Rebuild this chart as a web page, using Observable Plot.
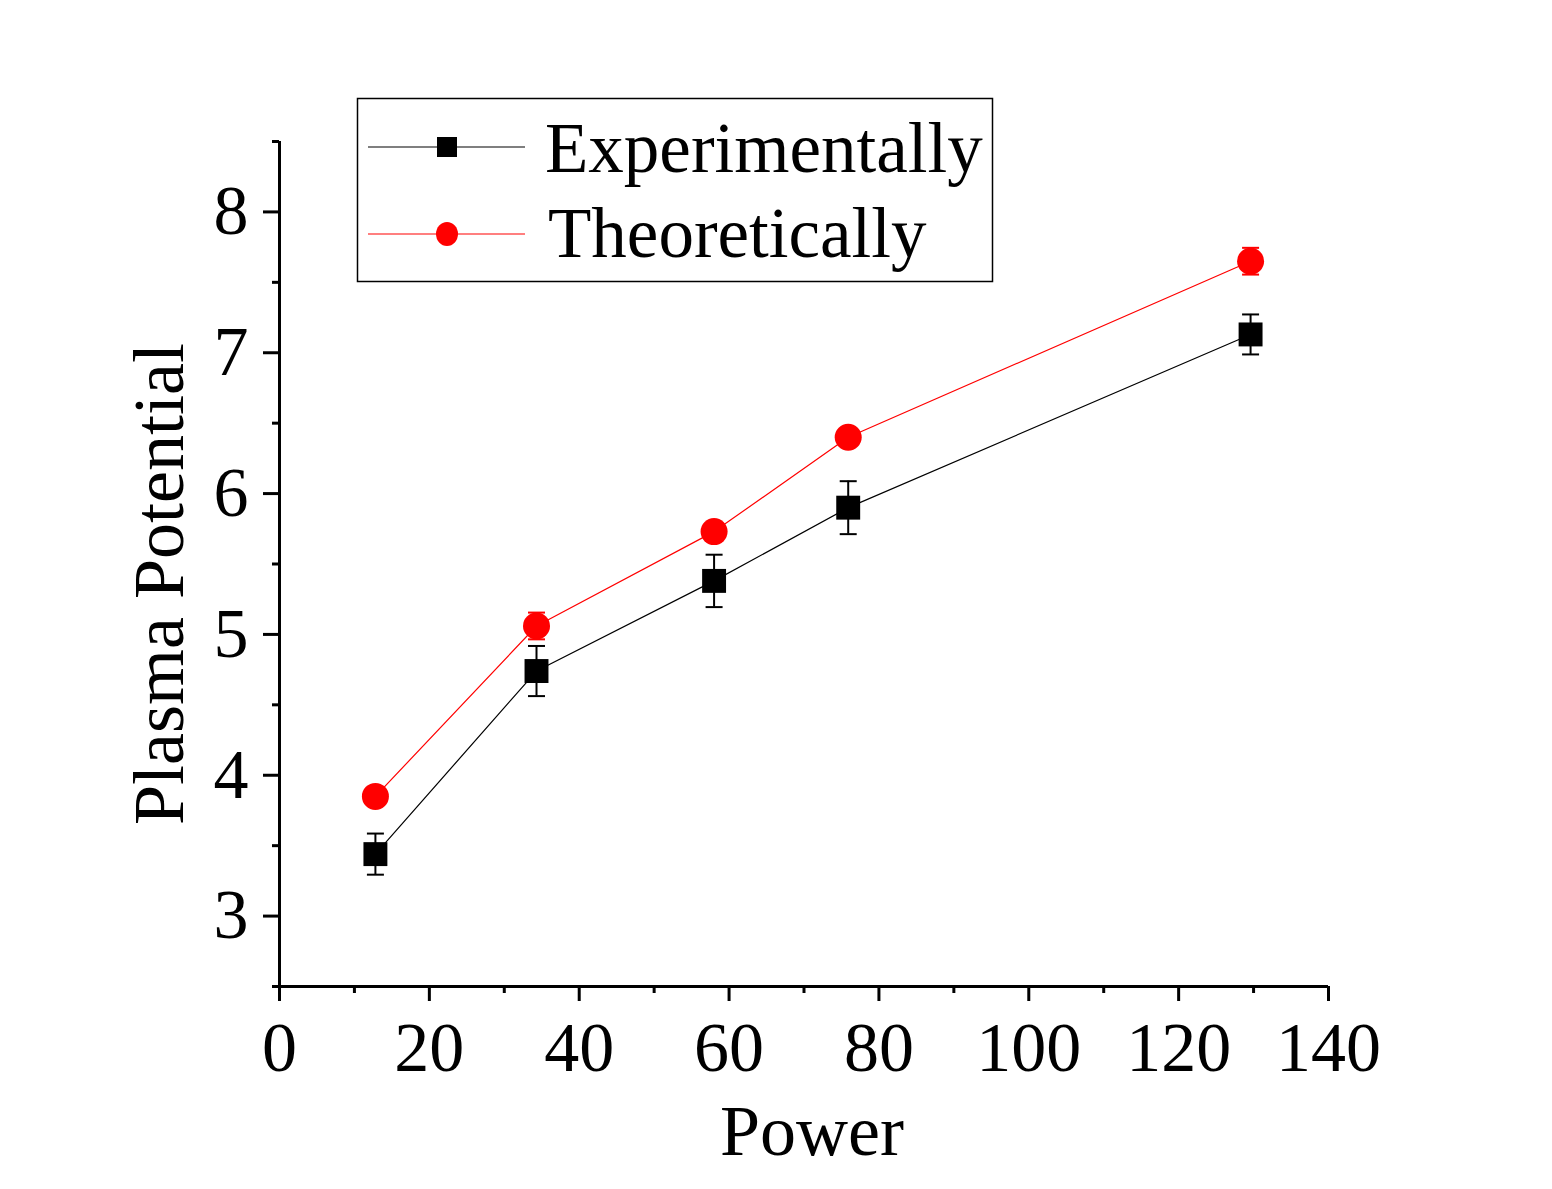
<!DOCTYPE html>
<html><head><meta charset="utf-8">
<script src="https://cdn.jsdelivr.net/npm/d3@7"></script>
<script src="https://cdn.jsdelivr.net/npm/@observablehq/plot@0.6"></script>
<style>body{margin:0;background:#fff} #chart svg{display:block}</style>
</head><body><div id="chart"></div>
<script>
const power = [12.8, 34.3, 58.0, 75.9, 129.6];
const experimental = [3.44, 4.74, 5.38, 5.90, 7.13];
const experimentalErr = [0.146, 0.178, 0.186, 0.188, 0.142];
const theoretical = [3.85, 5.06, 5.73, 6.40, 7.65];
const theoreticalErr = [0.05, 0.095, 0.05, 0.05, 0.095];
const xMajor = [0, 20, 40, 60, 80, 100, 120, 140];
const xMinor = [10, 30, 50, 70, 90, 110, 130];
const yMajor = [3, 4, 5, 6, 7, 8];
const yMinor = [2.5, 3.5, 4.5, 5.5, 6.5, 7.5, 8.5];
const seriesNames = ["Experimentally", "Theoretically"];
const seriesColors = ["#000000", "#ff0000"];
const xLabel = "Power";
const yLabel = "Plasma Potential";

const exp = power.map((x, i) => ({x, y: experimental[i], e: experimentalErr[i]}));
const theo = power.map((x, i) => ({x, y: theoretical[i], e: theoreticalErr[i]}));

const font = "'Liberation Serif','Times New Roman',serif";
const capSymbol = {draw(ctx, size) { const w = Math.sqrt(size / Math.PI); ctx.moveTo(-w, 0); ctx.lineTo(w, 0); }};

function seriesMarks(data, color, symbol) {
  return [
    Plot.line(data, {x: "x", y: "y", stroke: color, strokeWidth: 1.2}),
    Plot.ruleX(data, {x: "x", y1: d => d.y - d.e, y2: d => d.y + d.e, stroke: color, strokeWidth: 2}),
    Plot.dot(data, {x: "x", y: d => d.y + d.e, symbol: capSymbol, r: 8.5, stroke: color, strokeWidth: 2, fill: "none"}),
    Plot.dot(data, {x: "x", y: d => d.y - d.e, symbol: capSymbol, r: 8.5, stroke: color, strokeWidth: 2, fill: "none"}),
    Plot.dot(data, {x: "x", y: "y", symbol, r: 13.5, fill: color, stroke: "none"})
  ];
}

const chart = Plot.plot({
  width: 1552, height: 1189,
  marginLeft: 279, marginRight: 224, marginTop: 141, marginBottom: 203,
  style: {fontFamily: font, background: "#fff", color: "#000", overflow: "visible"},
  x: {domain: [0, 140]},
  y: {domain: [2.5, 8.5]},
  marks: [
    Plot.axisX({ticks: xMinor, tickSize: 7, tickFormat: () => "", strokeWidth: 3, label: null}),
    Plot.axisX({ticks: xMajor, tickSize: 15, tickPadding: 20, fontSize: 70, strokeWidth: 3, label: null, tickFormat: d3.format("d")}),
    Plot.axisY({ticks: yMinor, tickSize: 7, tickFormat: () => "", strokeWidth: 3, label: null}),
    Plot.axisY({ticks: yMajor, tickSize: 16, tickPadding: 15, fontSize: 70, strokeWidth: 3, label: null, tickFormat: d3.format("d")}),
    Plot.ruleY([2.5], {strokeWidth: 3}),
    Plot.ruleX([0], {strokeWidth: 3}),
    ...seriesMarks(exp, seriesColors[0], "square"),
    ...seriesMarks(theo, seriesColors[1], "circle"),
    Plot.text([xLabel], {frameAnchor: "bottom", text: d => d, lineAnchor: "middle", textAnchor: "middle", dx: 8, dy: 145, fontSize: 72}),
    Plot.text([yLabel], {frameAnchor: "left", text: d => d, rotate: -90, lineAnchor: "middle", textAnchor: "middle", dx: -120, dy: 20, fontSize: 72})
  ]
});

// legend inside the SVG
const svg = d3.select(chart);
const lg = svg.append("g").attr("font-family", font).attr("text-anchor", "start");
lg.append("rect").attr("x", 357.5).attr("y", 98.5).attr("width", 635).attr("height", 183)
  .attr("fill", "none").attr("stroke", "#000").attr("stroke-width", 1.5);
const rows = [{y: 147, base: 172, tx: 545}, {y: 234, base: 257, tx: 548}];
seriesNames.forEach((name, i) => {
  const r = rows[i];
  lg.append("line").attr("x1", 368).attr("x2", 525).attr("y1", r.y).attr("y2", r.y)
    .attr("stroke", seriesColors[i]).attr("stroke-width", 1.2);
  if (i === 0) {
    lg.append("rect").attr("x", 437).attr("y", r.y - 10).attr("width", 20).attr("height", 20).attr("fill", seriesColors[i]);
  } else {
    lg.append("ellipse").attr("cx", 447).attr("cy", r.y).attr("rx", 11).attr("ry", 12).attr("fill", seriesColors[i]);
  }
  lg.append("text").attr("x", r.tx).attr("y", r.base).attr("font-size", 71).attr("fill", "#000")
    .attr("text-anchor", "start").text(name);
});

document.getElementById("chart").appendChild(chart);
</script>
</body></html>
